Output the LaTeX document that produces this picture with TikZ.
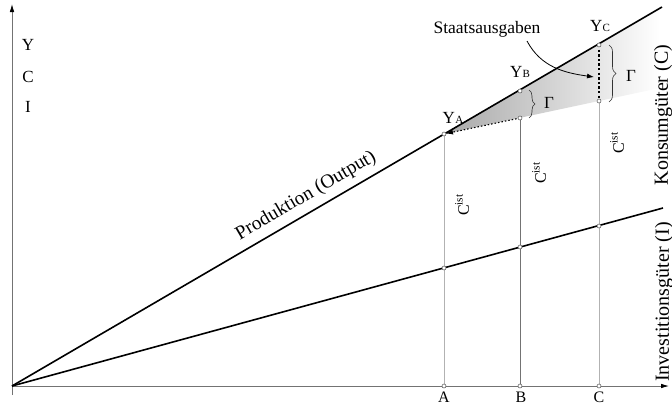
\documentclass[tikz,border=0pt]{standalone}
\usepackage{fontspec}
\setmainfont{Liberation Serif}
\usetikzlibrary{arrows.meta,decorations.pathreplacing,calc}
\newcommand{\fs}[1]{\fontsize{#1}{#1}\selectfont}
\newcommand{\Ysub}[1]{Y\kern0.3pt\raisebox{-0.5pt}{\fs{11}#1}}
\begin{document}
\begin{tikzpicture}[x=1pt,y=-1pt,
  axis/.style={draw=black!55, line width=0.8pt},
  axtip/.style={-{Latex[length=8pt,width=4.5pt,color=black]}},
  vline/.style={draw=black!30, line width=0.7pt},
  vlinedark/.style={draw=black!55, line width=0.7pt},
  mainline/.style={draw=black, line width=1.6pt},
  ptmark/.style={circle, draw=black!70, fill=white, line width=0.5pt, inner sep=0pt, minimum size=4pt},
  lab/.style={inner sep=0pt, font=\fs{17}},
  sidelab/.style={inner sep=0pt, font=\fs{20}, rotate=90},
  cist/.style={inner sep=0pt, font=\fs{16}, rotate=90},
  bracestyle/.style={draw=black!80, line width=0.6pt, decorate},
]
\useasboundingbox (0,0) rectangle (672,405);

% coordinates
\coordinate (O) at (12,386);
\coordinate (ybot) at (12,395);
\coordinate (ytop) at (12,4);
\coordinate (xright) at (669,386);
\coordinate (Pend) at (662,7);
\coordinate (Iend) at (663,208);
\coordinate (YA) at (444,134);
\coordinate (YB) at (520,91);
\coordinate (YC) at (599,45);
\coordinate (LB) at (520,118);
\coordinate (LC) at (599,101);
\coordinate (IA) at (444,268);
\coordinate (IB) at (520,247);
\coordinate (IC) at (599,226);
\coordinate (XA) at (444,386);
\coordinate (XB) at (520,386);
\coordinate (XC) at (599,386);
\coordinate (Sup) at (660,8);
\coordinate (Slo) at (660,88);

% shaded government spending wedge
\shade[left color=black!34, right color=white] (YA) -- (Sup) -- (Slo) -- cycle;

% axes
\draw[axis, axtip] (ybot) -- (ytop);
\draw[axis, axtip] (O) -- (xright);

% vertical guide lines
\draw[vline] (XA) -- (YA);
\draw[vlinedark] (XB) -- (LB);
\draw[vline] (XC) -- (LC);

% main lines
\draw[mainline] (O) -- (Pend);
\draw[mainline] (O) -- (Iend);

% dotted shift arrow and thick dotted segment
\draw[black, line width=1.1pt, dash pattern=on 1.5pt off 2pt, shorten >=2pt,
      -{Latex[length=7pt,width=5pt]}] (LB) -- (YA);
\draw[black, line width=2.4pt, dash pattern=on 2.4pt off 2.2pt] (YC) -- (LC);

% braces
\coordinate (bBt) at (529,90);
\coordinate (bBb) at (529,118);
\coordinate (bCt) at (609,45);
\coordinate (bCb) at (609,102);
\draw[bracestyle, decoration={brace, amplitude=6pt}] (bBt) -- (bBb);
\draw[bracestyle, decoration={brace, amplitude=7pt}] (bCt) -- (bCb);
\node[lab] (gB) at (549,103) {Γ};
\node[lab] (gC) at (631,76) {Γ};

% Staatsausgaben
\node[inner sep=0pt, font=\fs{17.5}] (staat) at (487,29) {Staatsausgaben};
\coordinate (sastart) at (527,41);
\coordinate (saend) at (594,77);
\draw[black, line width=0.8pt, -{Latex[length=7pt,width=5pt]}] (sastart) to[out=-62,in=172] (saend);

% point marks
\foreach \p in {YA,YB,YC,LB,LC,IA,IB,IC,XA,XB,XC}
  \node[ptmark] (m\p) at (\p) {};

% point labels
\node[lab, anchor=base] (tYA) at (453,123) {\Ysub{A}};
\node[lab, anchor=base] (tYB) at (520,77) {\Ysub{B}};
\node[lab, anchor=base] (tYC) at (600,31) {\Ysub{C}};

% axis labels
\node[inner sep=0pt, font=\fs{16}] (tA) at (444,397) {A};
\node[inner sep=0pt, font=\fs{16}] (tB) at (521,397) {B};
\node[inner sep=0pt, font=\fs{16}] (tC) at (599,397) {C};

\node[lab] (tY) at (28,45) {Y};
\node[lab] (tCC) at (28,77) {C};
\node[lab] (tI) at (28,107) {I};

% C^ist labels
\node[cist] (c1) at (462,205) {C\textsuperscript{ist}};
\node[cist] (c2) at (539,173) {C\textsuperscript{ist}};
\node[cist] (c3) at (617,143) {C\textsuperscript{ist}};

% line labels
\node[inner sep=0pt, font=\fs{19.5}, rotate=30.26] (prod) at (306,196) {Produktion (Output)};
\node[sidelab] (kons) at (663,115) {Konsumgüter (C)};
\node[sidelab] (inv) at (664,302) {Investitionsgüter (I)};
\end{tikzpicture}
\end{document}
